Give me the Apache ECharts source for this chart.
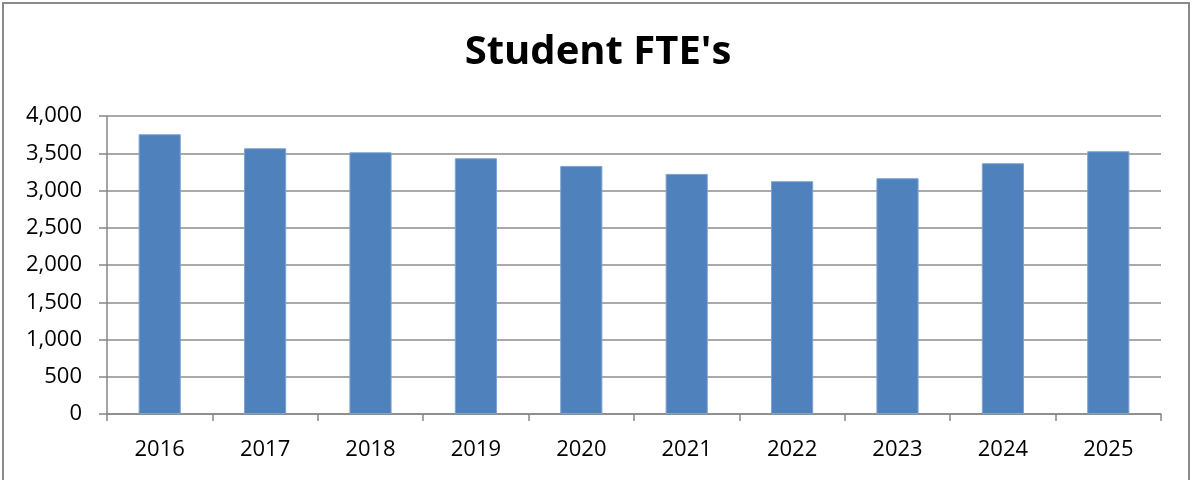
<!DOCTYPE html>
<html><head><meta charset="utf-8">
<script src="https://cdn.jsdelivr.net/npm/echarts@6/dist/echarts.min.js"></script>
<style>html,body{margin:0;padding:0;background:#fff}#c{width:1196px;height:480px}</style>
</head><body><div id="c"></div>
<script>
const title = "Student FTE's";
const years = ['2016','2017','2018','2019','2020','2021','2022','2023','2024','2025'];
const fte = [3755, 3567, 3513, 3433, 3330, 3223, 3125, 3165, 3366, 3527];
const yTicks = [0, 500, 1000, 1500, 2000, 2500, 3000, 3500, 4000];

const chart = echarts.init(document.getElementById('c'), null, {renderer:'canvas'});
chart.setOption({
  animation: false,
  backgroundColor: '#fff',
  title: {
    text: title, left: 'center', top: 28,
    textStyle: {fontFamily: 'Open Sans', fontWeight: 'bold', fontSize: 40, color: '#000'}
  },
  graphic: [{
    type: 'rect', silent: true,
    shape: {x: 3, y: 3, width: 1186, height: 500},
    style: {fill: 'none', stroke: '#8a8a8a', lineWidth: 2}
  }],
  grid: {left: 107, right: 35, top: 116, bottom: 66},
  xAxis: {
    type: 'category', data: years,
    axisLine: {lineStyle: {color: '#868686', width: 1.5}},
    axisTick: {show: true, length: 7, lineStyle: {color: '#868686', width: 1.5}},
    axisLabel: {fontFamily: 'Open Sans', fontSize: 22, color: '#000', margin: 25}
  },
  yAxis: {
    type: 'value', min: yTicks[0], max: yTicks[yTicks.length-1], interval: 500,
    axisLine: {show: true, lineStyle: {color: '#868686', width: 1.5}},
    axisTick: {show: true, length: 8, lineStyle: {color: '#868686', width: 1.5}},
    splitLine: {lineStyle: {color: '#8c8c8c', width: 1.5}},
    axisLabel: {fontFamily: 'Open Sans', fontSize: 22, color: '#000', margin: 25,
      formatter: v => v.toLocaleString('en-US')}
  },
  series: [{
    type: 'bar', data: fte, barWidth: '40%',
    itemStyle: {color: '#4f81bd', borderColor: '#7ea3d0', borderWidth: 1}
  }]
});
</script></body></html>
